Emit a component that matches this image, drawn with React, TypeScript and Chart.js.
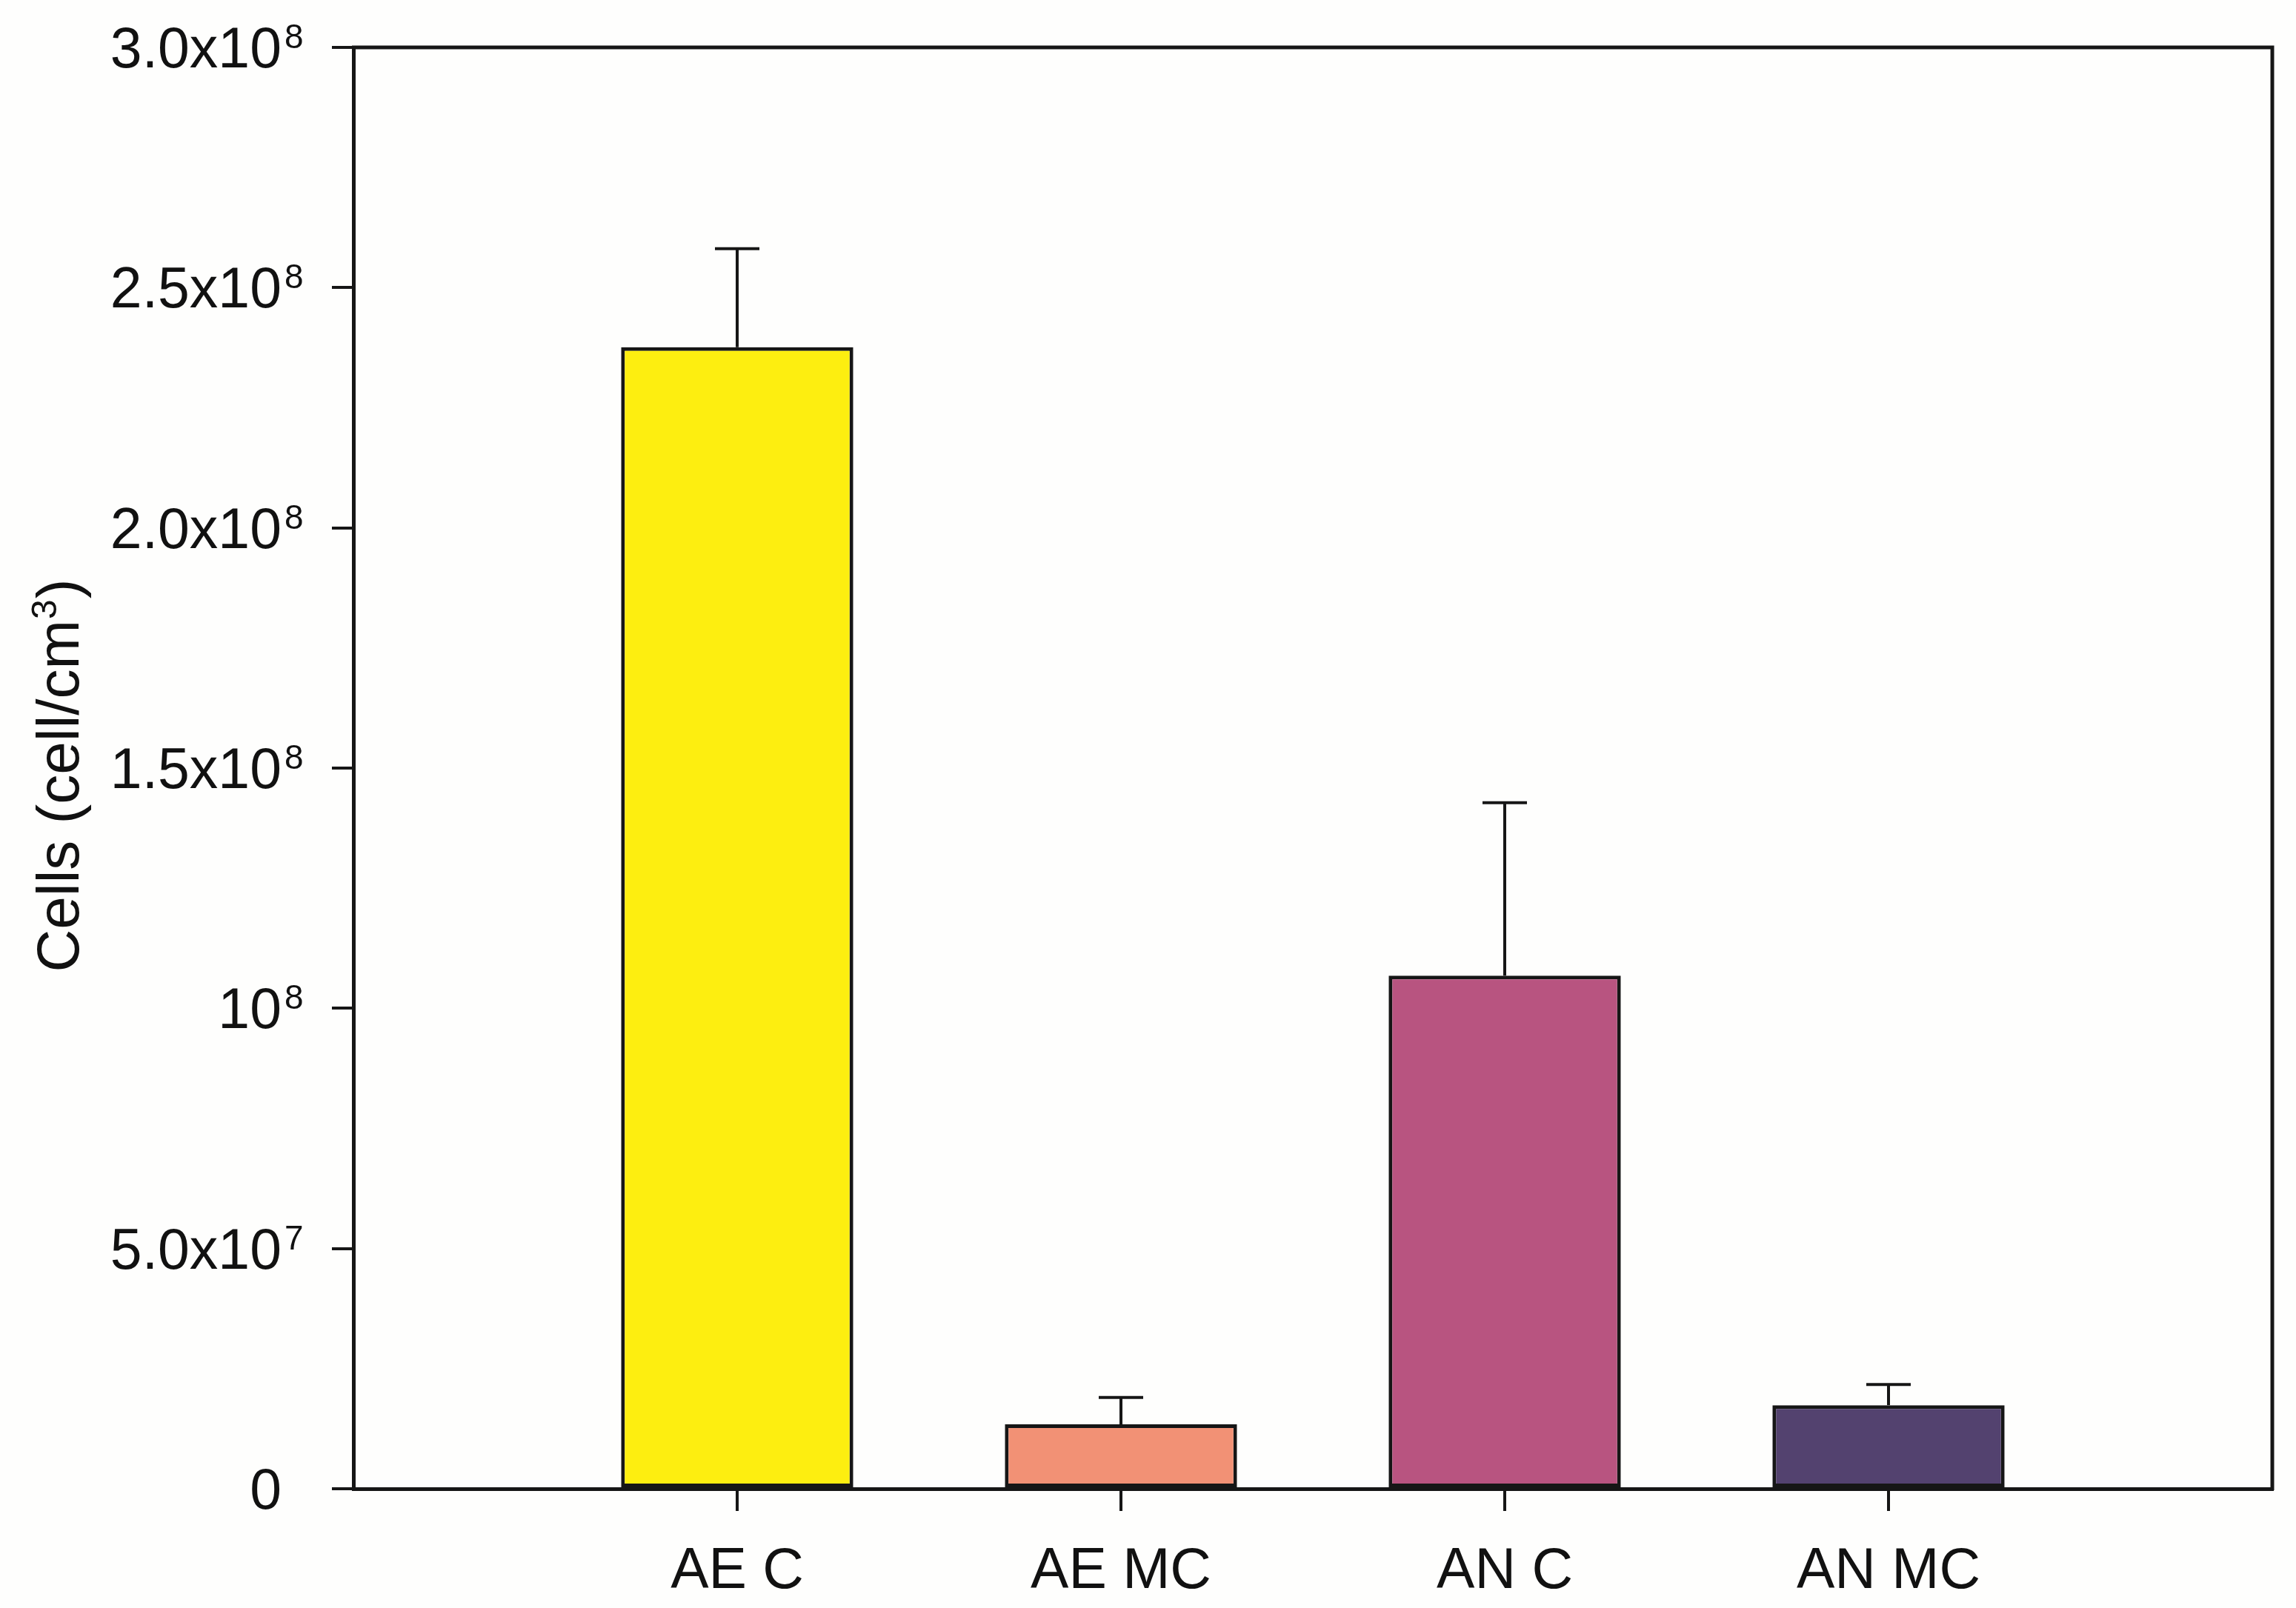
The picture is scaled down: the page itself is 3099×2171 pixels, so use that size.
import React, { useEffect, useRef } from 'react';
import { Chart, registerables } from 'chart.js';

Chart.register(...registerables);

const categories = ['AE C', 'AE MC', 'AN C', 'AN MC'];
const means = [2.376e8, 1.34e7, 1.068e8, 1.74e7];
const upperErrors = [2.05e7, 5.6e6, 3.6e7, 4.3e6];
const barColors = ['#FDEE10', '#F29175', '#B85480', '#53426F'];
const yTickValues = [0, 5e7, 1e8, 1.5e8, 2e8, 2.5e8, 3e8];
const yTickMantissa = ['0', '5.0x10', '10', '1.5x10', '2.0x10', '2.5x10', '3.0x10'];
const yTickExponent = ['', '7', '8', '8', '8', '8', '8'];
const yTitleMain = 'Cells (cell/cm';
const yTitleSup = '3';
const yTitleEnd = ')';

const W = 3099;
const H = 2171;
const INK = '#161616';
const FONT = '"Liberation Sans", Arial, sans-serif';

const labels = ['', ...categories, ''];
const barData = [null, ...means, null];
const barBg = ['rgba(0,0,0,0)', ...barColors, 'rgba(0,0,0,0)'];

const customPlugin = {
  id: 'customDraw',
  beforeDraw(chart: any) {
    const ctx = chart.ctx;
    ctx.save();
    ctx.fillStyle = '#fefefd';
    ctx.fillRect(0, 0, chart.width, chart.height);
    ctx.restore();
  },
  afterDatasetsDraw(chart: any) {
    const ctx = chart.ctx;
    const x = chart.scales.x;
    const y = chart.scales.y;
    ctx.save();
    ctx.strokeStyle = INK;
    ctx.lineWidth = 4;
    means.forEach((m, i) => {
      const px = x.getPixelForValue(i + 1);
      const top = y.getPixelForValue(m);
      const errTop = y.getPixelForValue(m + upperErrors[i]);
      ctx.beginPath();
      ctx.moveTo(px, top);
      ctx.lineTo(px, errTop);
      ctx.stroke();
      ctx.beginPath();
      ctx.moveTo(px - 30, errTop);
      ctx.lineTo(px + 30, errTop);
      ctx.stroke();
    });
    ctx.restore();
  },
  afterDraw(chart: any) {
    const ctx = chart.ctx;
    const area = chart.chartArea;
    const x = chart.scales.x;
    const y = chart.scales.y;
    ctx.save();
    // top and right frame
    ctx.strokeStyle = INK;
    ctx.lineWidth = 5;
    ctx.beginPath();
    ctx.moveTo(area.left - 2, area.top);
    ctx.lineTo(area.right, area.top);
    ctx.lineTo(area.right, area.bottom + 2);
    ctx.stroke();

    // y tick labels
    ctx.fillStyle = '#111';
    const labelRight = area.left - 97;
    yTickValues.forEach((v, i) => {
      const py = y.getPixelForValue(v);
      ctx.font = `77px ${FONT}`;
      ctx.textAlign = 'right';
      ctx.textBaseline = 'alphabetic';
      ctx.fillText(yTickMantissa[i], labelRight, py + 27);
      if (yTickExponent[i]) {
        ctx.font = `46px ${FONT}`;
        ctx.textAlign = 'left';
        ctx.fillText(yTickExponent[i], labelRight + 4, py + 1);
      }
    });

    // x tick labels
    ctx.font = `77px ${FONT}`;
    ctx.textAlign = 'center';
    ctx.textBaseline = 'alphabetic';
    categories.forEach((c, i) => {
      const px = x.getPixelForValue(i + 1);
      ctx.fillText(c, px, area.bottom + 134);
    });

    // y axis title
    const cy = (area.top + area.bottom) / 2 + 10;
    ctx.translate(106, cy);
    ctx.rotate(-Math.PI / 2);
    ctx.textAlign = 'left';
    ctx.font = `80px ${FONT}`;
    const w1 = ctx.measureText(yTitleMain).width;
    ctx.font = `48px ${FONT}`;
    const w2 = ctx.measureText(yTitleSup).width;
    ctx.font = `80px ${FONT}`;
    const w3 = ctx.measureText(yTitleEnd).width;
    const total = w1 + w2 + w3 + 2;
    let sx = -total / 2;
    ctx.font = `80px ${FONT}`;
    ctx.fillText(yTitleMain, sx, 0);
    sx += w1;
    ctx.font = `48px ${FONT}`;
    ctx.fillText(yTitleSup, sx + 1, -30);
    sx += w2 + 2;
    ctx.font = `80px ${FONT}`;
    ctx.fillText(yTitleEnd, sx, 0);
    ctx.restore();
  },
};

export default function App() {
  const canvasRef = useRef<HTMLCanvasElement | null>(null);

  useEffect(() => {
    const canvas = canvasRef.current;
    if (!canvas) return;
    const chart = new Chart(canvas, {
      type: 'bar',
      data: {
        labels,
        datasets: [
          {
            data: barData as any,
            backgroundColor: barBg,
            borderColor: INK,
            borderWidth: 5,
            borderSkipped: false,
            barPercentage: 0.605,
            categoryPercentage: 1.0,
          },
        ],
      },
      options: {
        animation: false,
        responsive: false,
        devicePixelRatio: 1,
        layout: { padding: { left: 0, top: 64, right: 32, bottom: 0 } },
        plugins: {
          legend: { display: false },
          tooltip: { enabled: false },
          title: { display: false },
        },
        scales: {
          x: {
            type: 'category',
            offset: false,
            grid: {
              offset: false,
              display: true,
              drawOnChartArea: false,
              drawTicks: true,
              tickLength: 30,
              lineWidth: 4,
              color: (c: any) =>
                c.index === 0 || c.index === labels.length - 1 ? 'rgba(0,0,0,0)' : INK,
            },
            border: { display: true, color: INK, width: 5 },
            ticks: { display: false },
            afterFit: (scale: any) => {
              scale.height = H - 2010;
            },
          },
          y: {
            type: 'linear',
            min: 0,
            max: 3e8,
            grid: {
              display: true,
              drawOnChartArea: false,
              drawTicks: true,
              tickLength: 29,
              lineWidth: 4,
              color: INK,
            },
            border: { display: true, color: INK, width: 5 },
            ticks: { display: false, stepSize: 5e7 },
            afterFit: (scale: any) => {
              scale.width = 477;
            },
          },
        },
      },
      plugins: [customPlugin],
    });
    return () => chart.destroy();
  }, []);

  return (
    <div style={{ position: 'absolute', left: 0, top: 0, width: W, height: H, background: '#fefefd' }}>
      <canvas ref={canvasRef} width={W} height={H} style={{ width: W, height: H, display: 'block' }} />
    </div>
  );
}
